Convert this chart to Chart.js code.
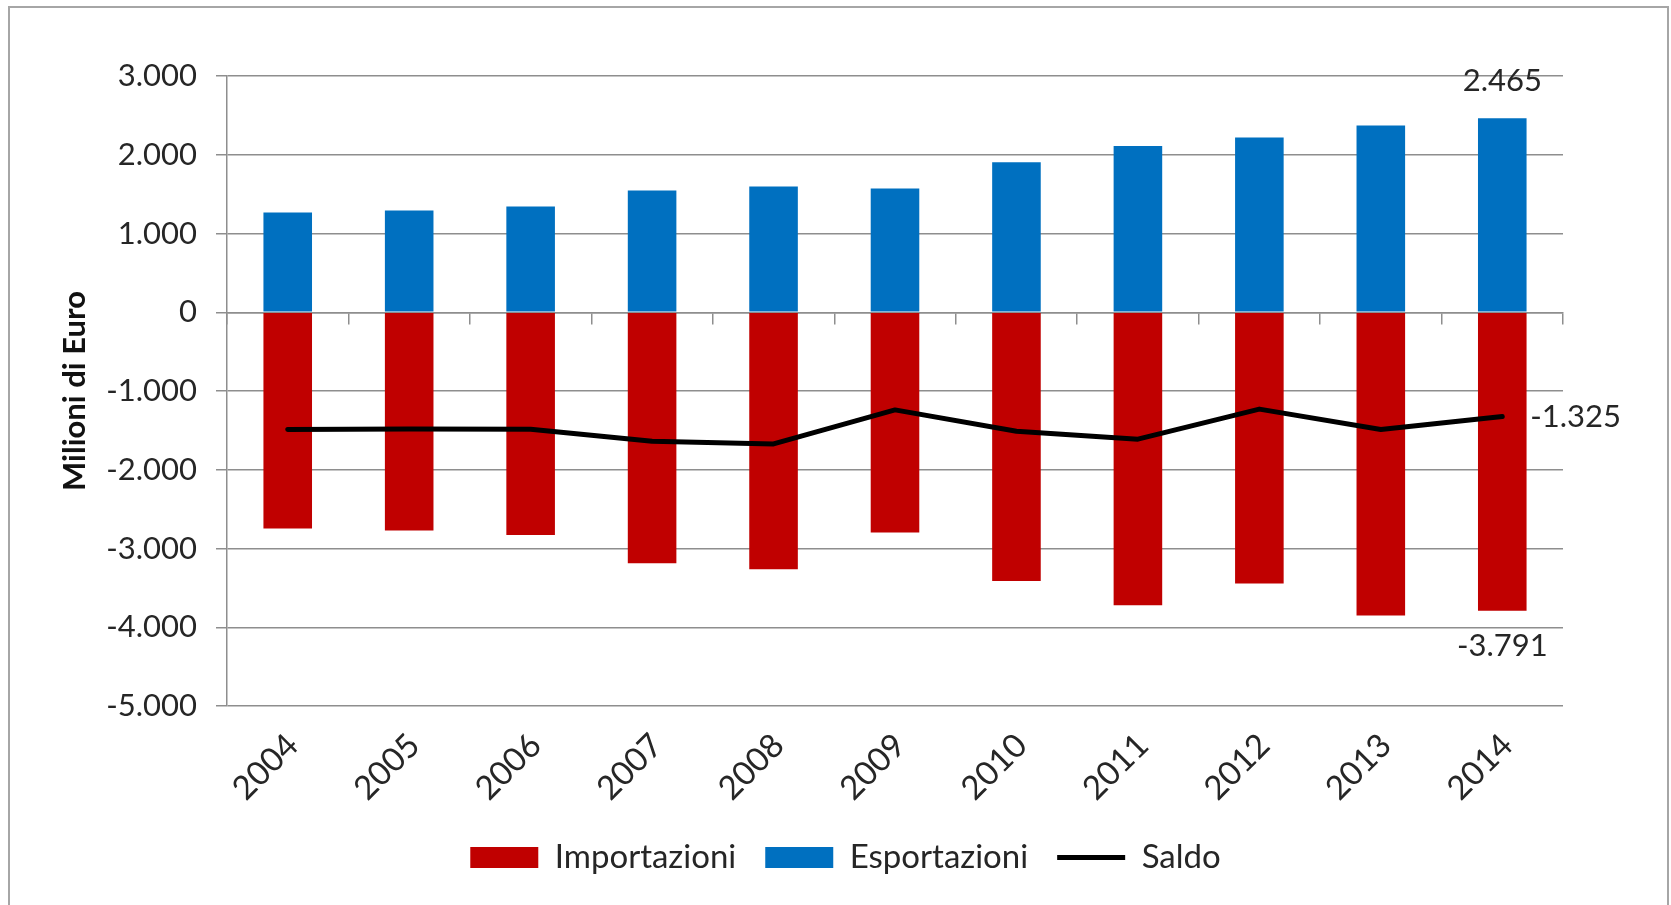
<!DOCTYPE html>
<html lang="it">
<head>
<meta charset="utf-8">
<title>Importazioni, esportazioni e saldo 2004-2014</title>
<script src="https://cdn.jsdelivr.net/npm/chart.js@4.4.1/dist/chart.umd.min.js"></script>
<style>
  html, body { margin: 0; padding: 0; background: #ffffff; }
  #wrap { position: relative; width: 1671px; height: 905px; overflow: hidden; }
  #frame { position: absolute; left: 8px; top: 6px; width: 1661px; height: 960px;
           border: 2px solid #a6a6a6; box-sizing: border-box; pointer-events: none; }
  canvas { position: absolute; left: 0; top: 0; }
</style>
</head>
<body>
<div id="wrap">
  <canvas id="chart" width="1671" height="905"></canvas>
  <div id="frame"></div>
</div>
<script>
// Annual values, millions of euro
const anni = ['2004', '2005', '2006', '2007', '2008', '2009', '2010', '2011', '2012', '2013', '2014'];
const importazioni = [-2747, -2772, -2827, -3186, -3262, -2797, -3414, -3722, -3443, -3852, -3791];
const esportazioni = [1267, 1293, 1343, 1546, 1597, 1572, 1905, 2112, 2218, 2370, 2465];
const saldo = [-1490, -1482, -1485, -1637, -1672, -1240, -1510, -1612, -1230, -1490, -1325];

// Value axis range
const yMin = -5000;
const yMax = 3000;
const yStep = 1000;

const TEXT = '#262626';
const GRID = '#8e8e8e';
const ROSSO = '#c00000';
const BLU = '#0070c0';

// Italian number format: dot as thousands separator
function formatIt(v) {
  const n = Math.round(Math.abs(v)).toString().replace(/\B(?=(\d{3})+(?!\d))/g, '.');
  return (v < 0 ? '-' : '') + n;
}

Chart.defaults.font.family = 'Lato, "Open Sans", sans-serif';
Chart.defaults.font.size = 31;
Chart.defaults.color = TEXT;

// Value labels on the last year of each series
const etichetteFinali = {
  id: 'etichetteFinali',
  afterDatasetsDraw(chart) {
    const ctx = chart.ctx;
    const last = anni.length - 1;
    ctx.save();
    ctx.font = '31px Lato, "Open Sans", sans-serif';
    ctx.fillStyle = TEXT;
    ctx.textBaseline = 'middle';
    ctx.textAlign = 'center';
    const pEsp = chart.getDatasetMeta(1).data[last];
    ctx.fillText(formatIt(esportazioni[last]), pEsp.x, pEsp.y - 37);
    const pImp = chart.getDatasetMeta(0).data[last];
    ctx.fillText(formatIt(importazioni[last]), pImp.x, pImp.y + 35);
    const pSal = chart.getDatasetMeta(2).data[last];
    ctx.textAlign = 'left';
    ctx.fillText(formatIt(saldo[last]), pSal.x + 28, pSal.y);
    ctx.restore();
  }
};

// Legend row sits a little right of the canvas centre
const legendaSpostata = {
  id: 'legendaSpostata',
  afterLayout(chart) {
    if (chart.legend) {
      chart.legend.left += 36;
      chart.legend.right += 36;
    }
  }
};

const defaultLabels = Chart.defaults.plugins.legend.labels.generateLabels;

new Chart(document.getElementById('chart'), {
  data: {
    labels: anni,
    datasets: [
      { type: 'bar', label: 'Importazioni', data: importazioni, backgroundColor: ROSSO,
        borderWidth: 0, order: 1, xAxisID: 'x', yAxisID: 'y', stack: 'flussi' },
      { type: 'bar', label: 'Esportazioni', data: esportazioni, backgroundColor: BLU,
        borderWidth: 0, order: 1, xAxisID: 'x', yAxisID: 'y', stack: 'flussi' },
      { type: 'line', label: 'Saldo', data: saldo, borderColor: '#000000', backgroundColor: '#000000',
        borderWidth: 5, pointRadius: 0, pointHoverRadius: 0, tension: 0, fill: false,
        borderJoinStyle: 'round', borderCapStyle: 'round',
        order: 0, xAxisID: 'x', yAxisID: 'y', stack: 'saldo' }
    ]
  },
  options: {
    responsive: false,
    animation: false,
    maintainAspectRatio: false,
    layout: { padding: { top: 76, right: 108, left: 56, bottom: 21 } },
    datasets: { bar: { barPercentage: 0.4, categoryPercentage: 1.0 } },
    plugins: {
      tooltip: { enabled: false },
      legend: {
        position: 'bottom',
        labels: {
          sort: (a, b) => a.datasetIndex - b.datasetIndex,
          usePointStyle: true,
          pointStyleWidth: 68,
          boxWidth: 68,
          boxHeight: 21,
          padding: 29,
          color: TEXT,
          font: { size: 33 },
          generateLabels(chart) {
            return defaultLabels(chart).map(item => {
              if (item.datasetIndex === 2) {
                item.pointStyle = 'line';
                item.lineWidth = 5;
                item.strokeStyle = '#000000';
              } else {
                item.pointStyle = 'rect';
                item.lineWidth = 0;
              }
              return item;
            });
          }
        }
      }
    },
    scales: {
      x: {
        type: 'category',
        position: 'bottom',
        stacked: true,
        offset: true,
        grid: { display: false },
        border: { display: false },
        ticks: { autoSkip: false, minRotation: 45, maxRotation: 45, padding: 12, labelOffset: 5,
                 color: TEXT, font: { size: 33 } },
        afterFit(scale) { scale.height = 106; }
      },
      x0: {
        type: 'category',
        position: { y: 0 },
        offset: true,
        grid: { display: true, drawOnChartArea: false, drawTicks: true, tickLength: 11, offset: true,
                color: GRID, lineWidth: 1.5 },
        ticks: { display: false },
        border: { display: true, color: GRID, width: 1.5 }
      },
      y: {
        type: 'linear',
        stacked: true,
        min: yMin,
        max: yMax,
        ticks: { stepSize: yStep, padding: 19, color: TEXT, font: { size: 31 }, callback: v => formatIt(v) },
        grid: { color: GRID, lineWidth: 1.5, tickLength: 11, drawTicks: true },
        border: { display: true, color: GRID, width: 1.5 },
        title: { display: true, text: 'Milioni di Euro', color: '#111111', padding: 0,
                 font: { size: 31, weight: 'bold' } },
        afterFit(scale) { scale.width = 171; }
      }
    }
  },
  plugins: [etichetteFinali, legendaSpostata]
});
</script>
</body>
</html>
